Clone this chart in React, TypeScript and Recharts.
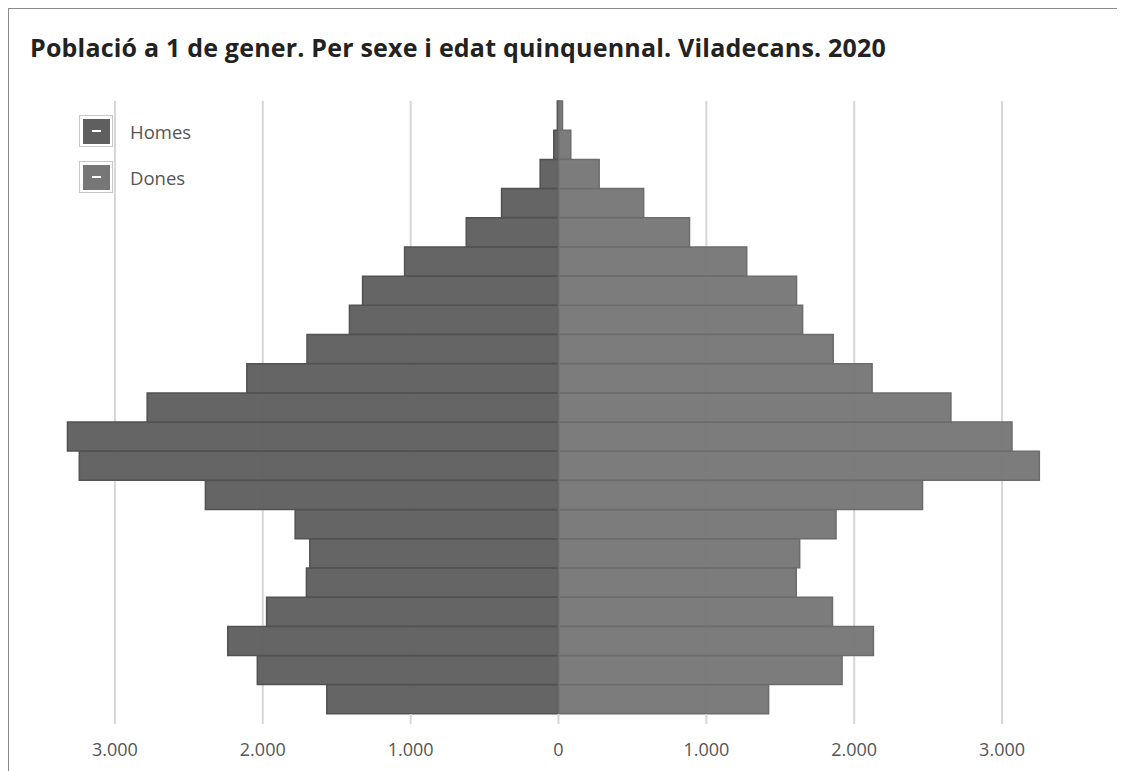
import React from 'react';
import { BarChart, Bar, XAxis, YAxis, CartesianGrid } from 'recharts';

const ageGroups = ['0-4', '5-9', '10-14', '15-19', '20-24', '25-29', '30-34', '35-39', '40-44', '45-49', '50-54', '55-59', '60-64', '65-69', '70-74', '75-79', '80-84', '85-89', '90-94', '95-99', '100 i més'];
const homes = [1567, 2037, 2237, 1974, 1705, 1682, 1781, 2388, 3241, 3321, 2782, 2108, 1701, 1414, 1325, 1041, 624, 385, 124, 32, 8];
const dones = [1421, 1918, 2130, 1853, 1608, 1631, 1877, 2462, 3252, 3067, 2654, 2121, 1858, 1651, 1610, 1273, 886, 576, 275, 83, 27];
const xTicks = [-3000, -2000, -1000, 0, 1000, 2000, 3000];
const seriesNames = ['Homes', 'Dones'];
const seriesColors = ['#5f5f5f', '#777777'];
const title = 'Població a 1 de gener. Per sexe i edat quinquennal. Viladecans. 2020';

const data = ageGroups.map((age, i) => ({ age, homes: -homes[i], dones: dones[i] }));

const fmt = (v: number) => Math.abs(v).toString().replace(/\B(?=(\d{3})+(?!\d))/g, '.');

function LegendItem({ name, color }: { name: string; color: string }) {
  return (
    <div style={{ display: 'flex', alignItems: 'center', height: 32, marginBottom: 14 }}>
      <div style={{ width: 34, height: 32, border: '1px solid #c8c8c8', display: 'flex', alignItems: 'center', justifyContent: 'center', boxSizing: 'border-box' }}>
        <div style={{ width: 27, height: 25, background: color, display: 'flex', alignItems: 'center', justifyContent: 'center' }}>
          <div style={{ width: 9, height: 2, background: '#fff' }} />
        </div>
      </div>
      <span style={{ marginLeft: 17, fontSize: 18.5, color: '#555', fontFamily: 'Open Sans, sans-serif' }}>{name}</span>
    </div>
  );
}

export default function App() {
  return (
    <div style={{ position: 'relative', width: 1117, height: 763, borderTop: '1px solid #8a8a8a', borderLeft: '1px solid #8a8a8a', boxSizing: 'border-box', background: '#fff' }}>
      <div style={{ position: 'absolute', left: 21, top: 21, fontFamily: 'Open Sans, sans-serif', fontWeight: 700, fontSize: 25, lineHeight: '34px', color: '#222', whiteSpace: 'nowrap', letterSpacing: 0.2 }}>
        {title}
      </div>
      <div style={{ position: 'absolute', left: 0, top: 0 }}>
        <BarChart width={1100} height={760} data={data} layout="vertical" stackOffset="sign" barCategoryGap={0} margin={{ top: 92, right: 33, bottom: 15, left: 32 }}>
          <CartesianGrid horizontal={false} stroke="#d6d6d6" strokeWidth={2} verticalValues={xTicks} />
          <XAxis type="number" domain={[-3500, 3500]} ticks={xTicks} tickFormatter={fmt} axisLine={false} tickLine={{ stroke: '#d6d6d6', strokeWidth: 2 }} tickSize={10} tickMargin={19} height={40} tick={{ fontSize: 18, fill: '#555', fontFamily: 'Open Sans, sans-serif' }} />
          <YAxis type="category" dataKey="age" hide reversed />
          <Bar dataKey="homes" name={seriesNames[0]} stackId="a" fill={seriesColors[0]} fillOpacity={0.96} stroke="#525252" strokeWidth={1.5} isAnimationActive={false} />
          <Bar dataKey="dones" name={seriesNames[1]} stackId="a" fill={seriesColors[1]} fillOpacity={0.96} stroke="#6c6c6c" strokeWidth={1.5} isAnimationActive={false} />
        </BarChart>
      </div>
      <div style={{ position: 'absolute', left: 70, top: 106 }}>
        <LegendItem name={seriesNames[0]} color={seriesColors[0]} />
        <LegendItem name={seriesNames[1]} color={seriesColors[1]} />
      </div>
    </div>
  );
}
